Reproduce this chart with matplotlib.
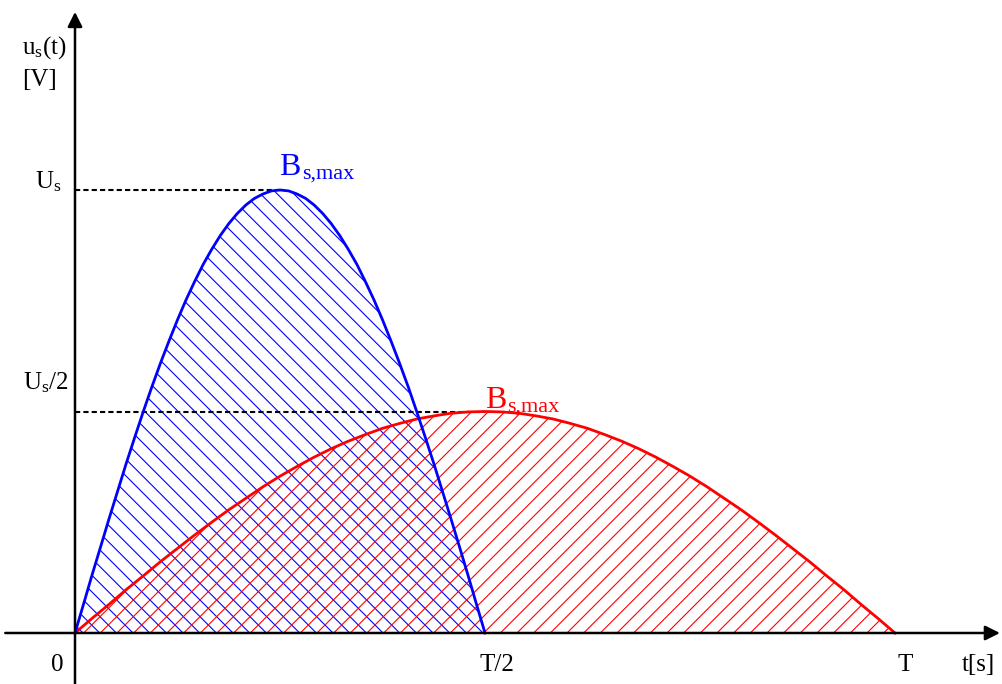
import matplotlib
matplotlib.use('Agg')
import matplotlib.pyplot as plt

plt.rcParams['font.family'] = 'Liberation Serif'
plt.rcParams['mathtext.fontset'] = 'custom'
plt.rcParams['mathtext.rm'] = 'Liberation Serif'
plt.rcParams['mathtext.it'] = 'Liberation Serif:italic'
plt.rcParams['hatch.linewidth'] = 0.8

# time in units of T, voltage in units of U_s
blue_t = [0, .0104, .0208, .0313, .0417, .0521, .0625, .0729, .0833, .0938, .1042, .1146,
          .125, .1354, .1458, .1563, .1667, .1771, .1875, .1979, .2083, .2188, .2292, .2396,
          .25, .2604, .2708, .2813, .2917, .3021, .3125, .3229, .3333, .3438, .3542, .3646,
          .375, .3854, .3958, .4063, .4167, .4271, .4375, .4479, .4583, .4688, .4792, .4896, .5]
blue_u = [0, .065, .131, .195, .259, .321, .383, .442, .500, .556, .609, .659,
          .707, .752, .793, .832, .866, .897, .924, .947, .966, .981, .991, .998,
          1.0, .998, .991, .981, .966, .947, .924, .897, .866, .832, .793, .752,
          .707, .659, .609, .556, .500, .442, .383, .321, .259, .195, .131, .065, 0]
red_t = [0, .0208, .0417, .0625, .0833, .1042, .125, .1458, .1667, .1875, .2083, .2292,
         .25, .2708, .2917, .3125, .3333, .3542, .375, .3958, .4167, .4375, .4583, .4792,
         .5, .5208, .5417, .5625, .5833, .6042, .625, .6458, .6667, .6875, .7083, .7292,
         .75, .7708, .7917, .8125, .8333, .8542, .875, .8958, .9167, .9375, .9583, .9792, 1.0]
red_u = [0, .033, .065, .098, .129, .161, .191, .221, .250, .278, .304, .330,
         .354, .376, .397, .416, .433, .448, .462, .473, .483, .490, .496, .499,
         .5, .499, .496, .490, .483, .473, .462, .448, .433, .416, .397, .376,
         .354, .330, .304, .278, .250, .221, .191, .161, .129, .098, .065, .033, 0]

y_ticks = [1.0, 0.5]
y_tick_labels = [r'$\mathrm{U_s}$', r'$\mathrm{U_s/2}$']
x_tick_labels = ['0', 'T/2', 'T']

fig = plt.figure(figsize=(10.02, 6.84), dpi=100)
ax = fig.add_axes([0, 0, 1, 1])
ax.set_xlim(-75 / 820, (1002 - 75) / 820)
ax.set_ylim(-(684 - 633) / 443, 633 / 443)
ax.axis('off')

# hatched areas
ax.fill_between(blue_t, blue_u, 0, facecolor='none', edgecolor='blue', hatch='\\\\', linewidth=0)
ax.fill_between(red_t, red_u, 0, facecolor='none', edgecolor='red', hatch='//', linewidth=0)

# dashed guide lines up to the two peaks
ax.plot([0, 0.25], [y_ticks[0], y_ticks[0]], color='black', lw=1.5, ls=(0, (2.5, 1.5)))
ax.plot([0, 0.5], [y_ticks[1], y_ticks[1]], color='black', lw=1.5, ls=(0, (2.5, 1.5)))

# axes with arrows
arrow = dict(arrowstyle='-|>', lw=1.8, color='black', mutation_scale=22, shrinkA=0, shrinkB=0)
ax.annotate('', xy=(1.128, 0), xytext=(-0.085, 0), arrowprops=arrow)
ax.annotate('', xy=(0, 1.402), xytext=(0, -0.12), arrowprops=arrow)

# curves
ax.plot(red_t, red_u, color='red', lw=2)
ax.plot([0, 1], [0, 0], color='red', lw=1.2)
ax.plot(blue_t, blue_u, color='blue', lw=2)
ax.plot([0, 0.5], [0, 0], color='blue', lw=1.2)

# labels
fs = 18
ax.text(-0.0646, 1.3205, r'$\mathrm{u_s(t)}$', fontsize=fs, ha='left', va='center')
ax.text(-0.0646, 1.248, '[V]', fontsize=fs, ha='left', va='center')
ax.text(-0.016, 1.018, y_tick_labels[0], fontsize=fs, ha='right', va='center')
ax.text(-0.008, 0.564, y_tick_labels[1], fontsize=fs, ha='right', va='center')
ax.text(-0.022, -0.072, x_tick_labels[0], fontsize=fs, ha='center', va='center')
ax.text(0.515, -0.072, x_tick_labels[1], fontsize=fs, ha='center', va='center')
ax.text(1.012, -0.072, x_tick_labels[2], fontsize=fs, ha='center', va='center')
ax.text(1.102, -0.072, 't[s]', fontsize=fs, ha='center', va='center')

# B_s,max labels
ax.text(0.2488, 1.034, 'B', fontsize=23, color='blue', ha='left', va='baseline')
ax.text(0.2768, 1.0248, 's,max', fontsize=16, color='blue', ha='left', va='baseline')
ax.text(0.5, 0.508, 'B', fontsize=23, color='red', ha='left', va='baseline')
ax.text(0.5268, 0.4989, 's,max', fontsize=16, color='red', ha='left', va='baseline')

fig.savefig('out.png', dpi=100)
